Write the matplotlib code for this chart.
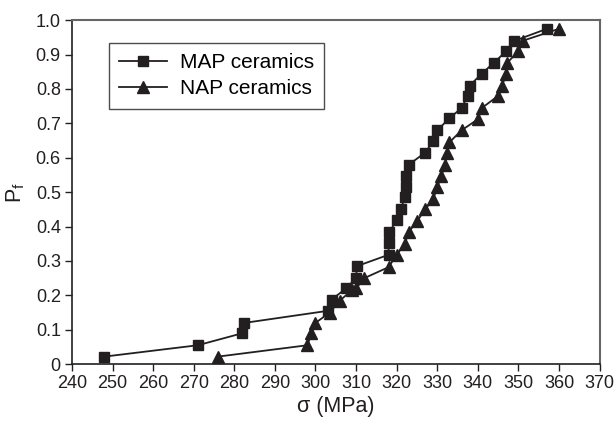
import matplotlib
matplotlib.use('Agg')
import matplotlib.pyplot as plt
import matplotlib.ticker as mticker

plt.rcParams['font.family'] = ['Liberation Sans', 'DejaVu Sans']

# datos
map_sigma = [248, 271, 282, 282.5, 303, 304, 307.5, 310, 310.2, 318, 318, 318.2,
             320, 321, 322, 322.2, 322.3, 323, 327, 329, 330, 333, 336, 337.5,
             338, 341, 344, 347, 349, 357]
map_pf = [0.022, 0.055, 0.09, 0.12, 0.155, 0.188, 0.22, 0.25, 0.285, 0.318,
          0.352, 0.385, 0.418, 0.45, 0.485, 0.515, 0.548, 0.58, 0.615, 0.648,
          0.68, 0.715, 0.745, 0.78, 0.81, 0.845, 0.877, 0.91, 0.94, 0.975]

nap_sigma = [276, 298, 299, 300, 303.5, 306, 309, 310, 312, 318, 320, 322, 323,
             325, 327, 329, 330, 331, 332, 332.3, 333, 336, 340, 341, 345, 346,
             347, 347.3, 350, 351, 360]
nap_pf = [0.022, 0.055, 0.09, 0.12, 0.15, 0.185, 0.215, 0.22, 0.25, 0.282,
          0.318, 0.35, 0.385, 0.415, 0.45, 0.48, 0.515, 0.548, 0.58, 0.615,
          0.645, 0.68, 0.712, 0.745, 0.78, 0.81, 0.845, 0.877, 0.91, 0.94, 0.975]

fig = plt.figure(figsize=(6.15, 4.21), dpi=100)
ax = fig.add_axes([0.117, 0.135, 0.858, 0.817])

ax.plot(map_sigma, map_pf, color='#231f20', marker='s', markersize=7,
        linewidth=1.3, label='MAP ceramics')
ax.plot(nap_sigma, nap_pf, color='#231f20', marker='^', markersize=8,
        linewidth=1.3, label='NAP ceramics')

ax.set_xlim(240, 370)
ax.set_ylim(0, 1.0)
ax.set_xticks(range(240, 371, 10))
ax.set_yticks([i / 10 for i in range(11)])
ax.yaxis.set_major_formatter(mticker.FuncFormatter(
    lambda v, p: '0' if v == 0 else '{:.1f}'.format(v)))
ax.tick_params(labelsize=13, direction='out', length=5, width=1, colors='#231f20',
               pad=3)

for s in ['left', 'bottom']:
    ax.spines[s].set_color('#231f20')
    ax.spines[s].set_linewidth(1.2)
for s in ['top', 'right']:
    ax.spines[s].set_color('#666666')
    ax.spines[s].set_linewidth(1.5)

ax.set_xlabel('σ (MPa)', fontsize=15.5, color='#231f20', labelpad=3)
ax.set_ylabel('P$_\\mathregular{f}$', fontsize=15.5, color='#231f20', labelpad=6)

leg = ax.legend(loc='upper left', bbox_to_anchor=(0.05, 0.965), fontsize=15,
                frameon=True, fancybox=False, edgecolor='#231f20',
                handlelength=2.3, borderpad=0.5, labelspacing=0.35,
                handletextpad=0.6)
leg.get_frame().set_linewidth(1.0)

fig.savefig('out.png', dpi=100)
